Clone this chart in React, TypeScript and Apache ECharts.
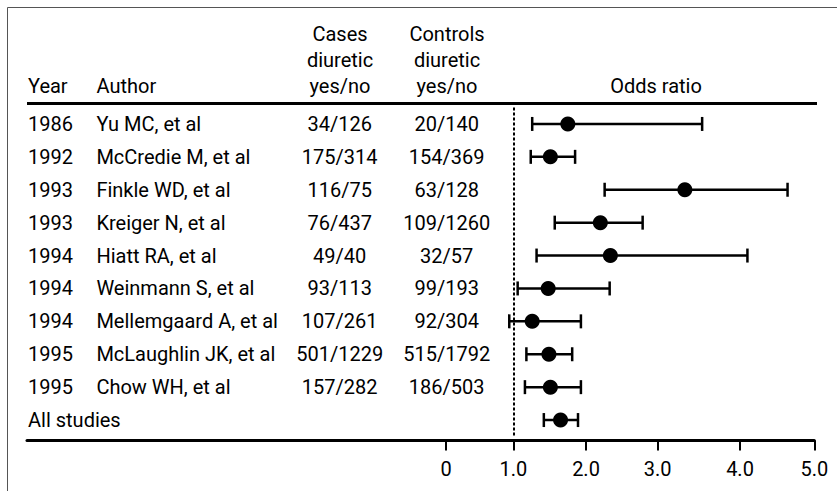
import React, { useEffect, useRef } from "react";
import * as echarts from "echarts";

// ---- table rows ----
const rowYears = ["1986", "1992", "1993", "1993", "1994", "1994", "1994", "1995", "1995", ""];
const rowAuthors = [
  "Yu MC, et al",
  "McCredie M, et al",
  "Finkle WD, et al",
  "Kreiger N, et al",
  "Hiatt RA, et al",
  "Weinmann S, et al",
  "Mellemgaard A, et al",
  "McLaughlin JK, et al",
  "Chow WH, et al",
  "All studies",
];
const casesYesNo = ["34/126", "175/314", "116/75", "76/437", "49/40", "93/113", "107/261", "501/1229", "157/282", ""];
const controlsYesNo = ["20/140", "154/369", "63/128", "109/1260", "32/57", "99/193", "92/304", "515/1792", "186/503", ""];

// ---- odds ratios with 95% CI ----
const oddsRatio = [1.75, 1.51, 3.33, 2.2, 2.34, 1.48, 1.26, 1.49, 1.51, 1.65];
const ciLower = [1.26, 1.24, 2.26, 1.57, 1.32, 1.06, 0.94, 1.18, 1.16, 1.42];
const ciUpper = [3.54, 1.85, 4.64, 2.79, 4.1, 2.33, 1.93, 1.81, 1.93, 1.89];

// ---- x-axis ticks (printed scale is not evenly spaced) ----
const orTicks = [0, 1, 2, 3, 4, 5];
const orTickLabels = ["0", "1.0", "2.0", "3.0", "4.0", "5.0"];
const orTickSpacing = [0, 67.3, 140, 211.7, 294, 368.3];

const FONT = "Roboto, 'Noto Sans', sans-serif";
const TXT = "#000";

function toAxis(v: number): number {
  for (let i = 0; i < orTicks.length - 1; i++) {
    if (v <= orTicks[i + 1] || i === orTicks.length - 2) {
      const t = (v - orTicks[i]) / (orTicks[i + 1] - orTicks[i]);
      return orTickSpacing[i] + t * (orTickSpacing[i + 1] - orTickSpacing[i]);
    }
  }
  return 0;
}

export default function App() {
  const ref = useRef<HTMLDivElement>(null);
  useEffect(() => {
    if (!ref.current) return;
    const chart = echarts.init(ref.current, undefined, { renderer: "svg" });
    const tickAxisVals = orTicks.map(toAxis);
    const errData = rowAuthors.map((_, i) => [toAxis(ciLower[i]), toAxis(ciUpper[i]), i]);
    const dotData = rowAuthors.map((_, i) => [toAxis(oddsRatio[i]), i]);

    const hdr = (text: string, x: number, y: number, align: string) => ({
      type: "text",
      x,
      y,
      silent: true,
      style: {
        text,
        align,
        verticalAlign: "middle",
        fontSize: 20,
        fontFamily: FONT,
        fill: TXT,
      },
    });

    const option: any = {
      animation: false,
      backgroundColor: "#fff",
      grid: { left: 27, right: 22.7, top: 107.5, bottom: 54.5, containLabel: false },
      xAxis: {
        type: "value",
        min: -419,
        max: 368.3,
        offset: 4,
        splitLine: { show: false },
        axisLine: { show: true, lineStyle: { color: "#000", width: 3 } },
        axisTick: {
          show: true,
          length: 10,
          lineStyle: { color: "#000", width: 2 },
          customValues: tickAxisVals,
        },
        axisLabel: {
          customValues: tickAxisVals,
          margin: 18,
          fontSize: 20,
          fontFamily: FONT,
          color: TXT,
          formatter: (v: number) => {
            const idx = tickAxisVals.findIndex((t) => Math.abs(t - v) < 0.01);
            return idx >= 0 ? orTickLabels[idx] : "";
          },
        },
      },
      yAxis: {
        type: "category",
        inverse: true,
        data: rowAuthors,
        axisLine: { show: false },
        axisTick: { show: false },
        splitLine: { show: false },
        axisLabel: {
          inside: true,
          margin: 1,
          interval: 0,
          fontSize: 20,
          fontFamily: FONT,
          color: TXT,
          formatter: (_v: string, i: number) => {
            if (!rowYears[i]) return `{all|${rowAuthors[i]}}`;
            return `{yr|${rowYears[i]}}{au|${rowAuthors[i]}}{ca|${casesYesNo[i]}}{co|${controlsYesNo[i]}}`;
          },
          rich: {
            yr: { width: 68.4, align: "left", fontSize: 20, fontFamily: FONT, color: TXT },
            au: { width: 193.3, align: "left", fontSize: 20, fontFamily: FONT, color: TXT },
            ca: { width: 100, align: "center", fontSize: 20, fontFamily: FONT, color: TXT },
            co: { width: 114, align: "center", fontSize: 20, fontFamily: FONT, color: TXT },
            all: { fontSize: 20, fontFamily: FONT, color: TXT },
          },
        },
      },
      series: [
        {
          type: "custom",
          encode: { x: [0, 1], y: 2 },
          data: errData,
          z: 2,
          renderItem: (_p: any, api: any) => {
            const row = api.value(2);
            const a = api.coord([api.value(0), row]);
            const b = api.coord([api.value(1), row]);
            const h = 7;
            const st = { stroke: "#000", lineWidth: 2.5 };
            return {
              type: "group",
              children: [
                { type: "line", shape: { x1: a[0], y1: a[1], x2: b[0], y2: b[1] }, style: st },
                { type: "line", shape: { x1: a[0], y1: a[1] - h, x2: a[0], y2: a[1] + h }, style: st },
                { type: "line", shape: { x1: b[0], y1: b[1] - h, x2: b[0], y2: b[1] + h }, style: st },
              ],
            };
          },
        },
        {
          type: "scatter",
          data: dotData,
          symbol: "circle",
          symbolSize: 15,
          z: 3,
          itemStyle: { color: "#000", opacity: 1 },
          markLine: {
            silent: true,
            symbol: ["none", "none"],
            label: { show: false },
            lineStyle: { color: "#000", width: 2, type: [3, 2], opacity: 1 },
            data: [{ xAxis: toAxis(1) }],
          },
        },
      ],
      graphic: [
        {
          type: "rect",
          silent: true,
          shape: { x: 7.5, y: 7.5, width: 900, height: 600 },
          style: { fill: "none", stroke: "#555", lineWidth: 1 },
        },
        {
          type: "line",
          silent: true,
          shape: { x1: 27, y1: 103.5, x2: 817, y2: 103.5 },
          style: { stroke: "#000", lineWidth: 3 },
        },
        hdr("Year", 28, 86, "left"),
        hdr("Author", 96.5, 86, "left"),
        hdr("Cases", 340, 33.5, "center"),
        hdr("diuretic", 340, 59.5, "center"),
        hdr("yes/no", 340, 85.7, "center"),
        hdr("Controls", 447, 33.5, "center"),
        hdr("diuretic", 447, 59.5, "center"),
        hdr("yes/no", 447, 85.7, "center"),
        hdr("Odds ratio", 656, 86, "center"),
      ],
    };
    chart.setOption(option);
    return () => chart.dispose();
  }, []);
  return (
    <div
      ref={ref}
      style={{ position: "fixed", left: 0, top: 0, width: 837, height: 491, background: "#fff" }}
    />
  );
}
